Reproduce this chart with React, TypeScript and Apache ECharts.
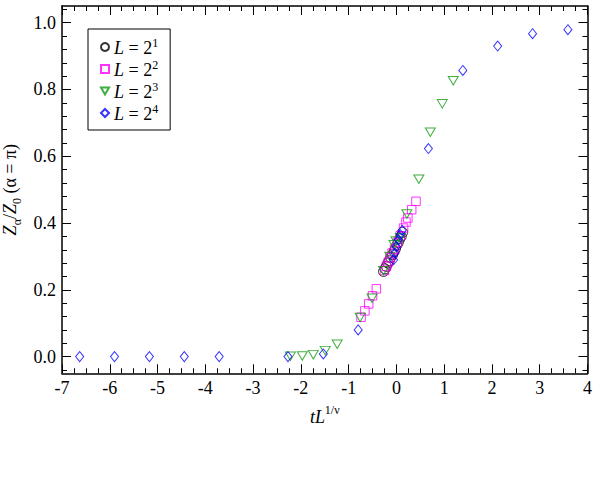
import React, { useEffect, useRef } from "react";
import * as echarts from "echarts";

const FONT = "Liberation Serif";

// L = 2^1 (black circles)
const xL1 = [-0.27, -0.24, -0.21, -0.18, -0.15, -0.12, -0.08, -0.05, -0.02, 0.01, 0.04, 0.07, 0.1, 0.13];
const yL1 = [0.255, 0.263, 0.27, 0.28, 0.287, 0.297, 0.305, 0.315, 0.323, 0.334, 0.342, 0.353, 0.36, 0.372];
// L = 2^2 (magenta squares)
const xL2 = [-0.74, -0.66, -0.58, -0.5, -0.42, -0.25, -0.21, -0.17, -0.13, -0.09, -0.04, 0.02, 0.08, 0.15, 0.2, 0.24, 0.32, 0.41];
const yL2 = [0.118, 0.137, 0.158, 0.182, 0.203, 0.258, 0.27, 0.283, 0.297, 0.31, 0.322, 0.342, 0.362, 0.385, 0.403, 0.415, 0.44, 0.465];
// L = 2^3 (green down-triangles)
const xL3 = [-2.22, -1.97, -1.74, -1.49, -1.24, -0.76, -0.51, -0.27, -0.14, -0.05, -0.01, 0.08, 0.22, 0.47, 0.71, 0.96, 1.19];
const yL3 = [0.001, 0.002, 0.006, 0.018, 0.037, 0.117, 0.175, 0.257, 0.3, 0.335, 0.346, 0.356, 0.427, 0.531, 0.672, 0.757, 0.826];
// L = 2^4 (blue diamonds)
const xL4 = [-6.63, -5.9, -5.17, -4.44, -3.71, -2.27, -1.53, -0.8, -0.06, -0.03, 0.0, 0.04, 0.08, 0.12, 0.67, 1.39, 2.12, 2.85, 3.59];
const yL4 = [0.0, 0.0, 0.0, 0.0, 0.0, 0.0, 0.008, 0.08, 0.29, 0.31, 0.33, 0.35, 0.365, 0.378, 0.623, 0.857, 0.93, 0.967, 0.979];

const seriesNames = ["L1", "L2", "L3", "L4"];
const seriesExponents = ["1", "2", "3", "4"];

const yMajorTicks = [0, 0.2, 0.4, 0.6, 0.8, 1.0];
const yMinorTicks = [-0.04, 0.04, 0.08, 0.12, 0.16, 0.24, 0.28, 0.32, 0.36, 0.44, 0.48, 0.52, 0.56, 0.64, 0.68, 0.72, 0.76, 0.84, 0.88, 0.92, 0.96, 1.04];

const zip = (xs: number[], ys: number[]) => xs.map((x, i) => [x, ys[i]]);

const TRI_DOWN = "path://M0,0 L10,0 L5,8.66 Z";

export default function App() {
  const ref = useRef<HTMLDivElement>(null);
  useEffect(() => {
    if (!ref.current) return;
    const chart = echarts.init(ref.current, null, { renderer: "svg" });
    const lineStyle = { color: "#000", width: 1.5 };
    const tickRich = { t: { fontFamily: FONT, fontSize: 18, color: "#000" } };
    const yBase = (position: "left" | "right", major: boolean, showLine: boolean, labels: boolean) => ({
      type: "value",
      position,
      min: -0.05,
      max: 1.05,
      splitLine: { show: false },
      axisLine: { show: showLine, onZero: false, lineStyle },
      axisTick: {
        show: true,
        inside: true,
        length: major ? 9 : 5,
        customValues: major ? yMajorTicks : yMinorTicks,
        lineStyle: { color: "#000", width: 1 },
      },
      axisLabel: labels
        ? {
            show: true,
            customValues: yMajorTicks,
            formatter: (v: number) => `{t|${v.toFixed(1)}}`,
            fontFamily: FONT,
            fontSize: 18,
            color: "#000",
            rich: tickRich,
            margin: 6,
          }
        : { show: false },
    });
    const xBase = (position: "bottom" | "top", labels: boolean) => ({
      type: "value",
      position,
      min: -7,
      max: 4,
      interval: 1,
      splitLine: { show: false },
      axisLine: { show: true, onZero: false, lineStyle },
      axisTick: { show: true, inside: true, length: 9, lineStyle: { color: "#000", width: 1 } },
      minorTick: { show: true, splitNumber: 4, length: 5, lineStyle: { color: "#000", width: 1 } },
      minorSplitLine: { show: false },
      axisLabel: labels
        ? {
            show: true,
            fontFamily: FONT,
            fontSize: 18,
            color: "#000",
            rich: tickRich,
            margin: 6,
            formatter: (v: number) => `{t|${String(v)}}`,
          }
        : { show: false },
    });
    const xAxis0: any = xBase("bottom", true);
    xAxis0.name = "{it|tL}{sup|1/ν}";
    xAxis0.nameLocation = "middle";
    xAxis0.nameGap = 31;
    xAxis0.nameTextStyle = {
      fontFamily: FONT,
      fontSize: 18,
      color: "#000",
      rich: {
        it: { fontFamily: FONT, fontSize: 18, fontStyle: "italic", color: "#000", lineHeight: 22, verticalAlign: "bottom" },
        sup: { fontFamily: FONT, fontSize: 12, color: "#000", verticalAlign: "top", lineHeight: 22 },
      },
    };
    const yAxis0: any = yBase("left", true, true, true);
    yAxis0.name = "{it|Z}{sub|α}{n|/}{it|Z}{sub|0}{n| (α = π)}";
    yAxis0.nameLocation = "middle";
    yAxis0.nameGap = 30;
    yAxis0.nameRotate = 90;
    yAxis0.nameTextStyle = {
      fontFamily: FONT,
      fontSize: 18,
      color: "#000",
      rich: {
        it: { fontFamily: FONT, fontSize: 18, fontStyle: "italic", color: "#000", lineHeight: 22, verticalAlign: "top" },
        n: { fontFamily: FONT, fontSize: 18, color: "#000", lineHeight: 22, verticalAlign: "top" },
        sub: { fontFamily: FONT, fontSize: 12, color: "#000", lineHeight: 22, verticalAlign: "bottom" },
      },
    };

    const mk = (i: number) => {
      const d = [zip(xL1, yL1), zip(xL2, yL2), zip(xL3, yL3), zip(xL4, yL4)][i];
      const colors = ["#000000", "#ff00ff", "#109a10", "#0000ff"];
      const symbols = ["circle", "rect", TRI_DOWN, "diamond"];
      const sizes: any[] = [10, 8.5, [10, 8.5], [8, 10]];
      return {
        name: seriesNames[i],
        type: "scatter",
        xAxisIndex: 0,
        yAxisIndex: 0,
        data: d,
        symbol: symbols[i],
        symbolSize: sizes[i],
        symbolKeepAspect: false,
        itemStyle: { color: "rgba(255,255,255,0)", borderColor: colors[i], borderWidth: 1 },
        emphasis: { disabled: true },
        z: 2 + i,
      };
    };

    chart.setOption({
      animation: false,
      backgroundColor: "#fff",
      textStyle: { fontFamily: FONT, color: "#000" },
      grid: { left: 62, right: 10.5, top: 6, bottom: 108.7, containLabel: false, outerBoundsMode: "none" },
      legend: {
        show: true,
        data: seriesNames,
        orient: "vertical",
        left: 88,
        top: 29,
        padding: [8, 12, 7, 12],
        itemWidth: 8,
        itemHeight: 8,
        itemGap: 2,
        itemTextGap: 16,
        borderColor: "#000",
        borderWidth: 1,
        selectedMode: false,
        formatter: (name: string) => `{it|L}{n| = 2}{sup|${seriesExponents[seriesNames.indexOf(name)]}}`,
        textStyle: {
          fontFamily: FONT,
          fontSize: 18,
          color: "#000",
          rich: {
            it: { fontFamily: FONT, fontSize: 18, fontStyle: "italic", color: "#000", lineHeight: 20, verticalAlign: "bottom" },
            n: { fontFamily: FONT, fontSize: 18, color: "#000", lineHeight: 20, verticalAlign: "bottom" },
            sup: { fontFamily: FONT, fontSize: 12, color: "#000", lineHeight: 20, verticalAlign: "top" },
          },
        },
      },
      xAxis: [xAxis0, xBase("top", false)],
      yAxis: [yAxis0, yBase("left", false, false, false), yBase("right", true, true, false), yBase("right", false, false, false)],
      series: [0, 1, 2, 3].map(mk),
    });
    return () => chart.dispose();
  }, []);
  return <div ref={ref} style={{ position: "fixed", left: 0, top: 0, width: 598, height: 482, background: "#fff" }} />;
}
